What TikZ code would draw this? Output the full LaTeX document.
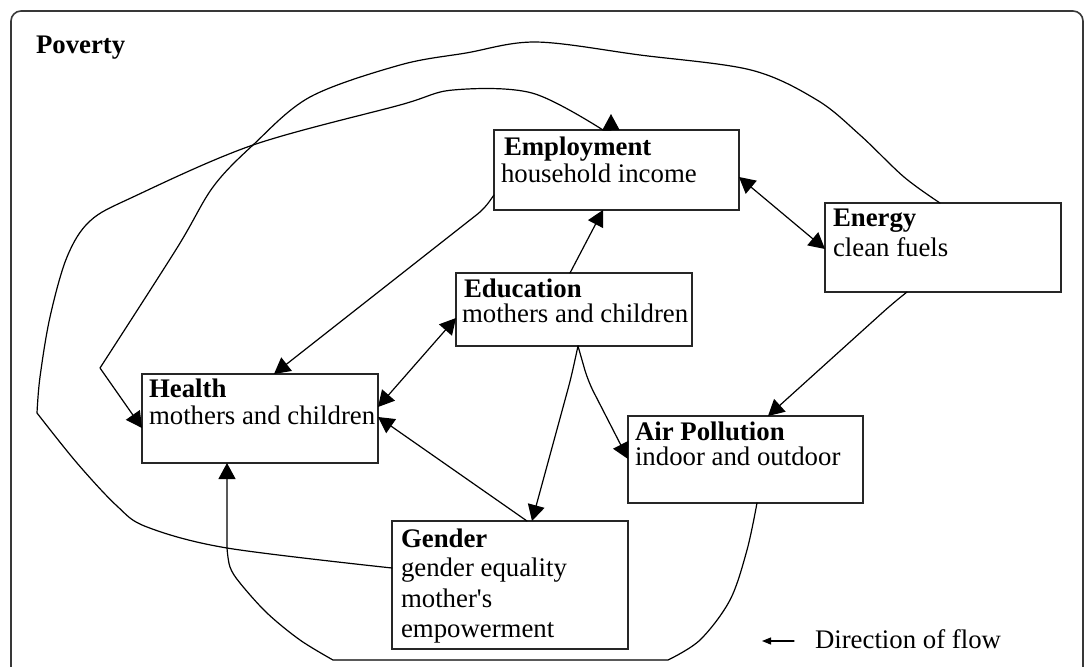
\documentclass[tikz,border=0pt]{standalone}
\usepackage{fontspec}
\setmainfont{Liberation Serif}
\usetikzlibrary{arrows.meta,calc}
\begin{document}
\begin{tikzpicture}[x=0.5pt,y=-0.5pt,
  >={Triangle[length=8pt,width=8.5pt]},
  box/.style={draw=black!85, line width=0.65pt, inner sep=0pt, outer sep=0pt, anchor=north west},
  lbl/.style={anchor=base west, inner sep=0pt, outer sep=0pt, font=\fontsize{13.4}{15}\selectfont},
  ttl/.style={lbl, font=\fontsize{13.4}{15}\selectfont\bfseries},
  link/.style={line width=0.6pt, line join=round, line cap=round},
  arr/.style={link, ->},
  darr/.style={link, <->},
]
\useasboundingbox (0,0) rectangle (1088,666);

% outer frame
\draw[draw=black!78, line width=0.8pt, rounded corners=5pt]
  (11,690) -- (11,11) -- (1083,11) -- (1083,690);
\node[ttl] (pov) at (36,53) {Poverty};

% boxes
\node[box, minimum width=122.5pt, minimum height=40pt]   (emp) at (494,130) {};
\node[box, minimum width=118pt,   minimum height=44.5pt] (ene) at (825,203) {};
\node[box, minimum width=118pt,   minimum height=36.5pt] (edu) at (456,273) {};
\node[box, minimum width=118pt,   minimum height=44.5pt] (hea) at (142,374) {};
\node[box, minimum width=117.5pt, minimum height=43.5pt] (air) at (628,416) {};
\node[box, minimum width=118pt,   minimum height=64pt]   (gen) at (392,521) {};

% box texts
\node[ttl] (emp-t) at (504,155) {Employment};
\node[lbl] (emp-s) at (501,182) {household income};
\node[ttl] (ene-t) at (833,226) {Energy};
\node[lbl] (ene-s) at (833,256) {clean fuels};
\node[ttl] (edu-t) at (464,297) {Education};
\node[lbl] (edu-s) at (462,322) {mothers and children};
\node[ttl] (hea-t) at (149,397) {Health};
\node[lbl] (hea-s) at (149,424) {mothers and children};
\node[ttl] (air-t) at (635,440) {Air Pollution};
\node[lbl] (air-s) at (635,465) {indoor and outdoor};
\node[ttl] (gen-t) at (401,547) {Gender};
\node[lbl] (gen-1) at (401,576) {gender equality};
\node[lbl] (gen-2) at (401,607) {mother\textquotesingle s};
\node[lbl] (gen-3) at (401,637) {empowerment};

% direct links
\draw[arr, rounded corners=4pt] ($(emp.north west)+(0,65)$) -- (484,209) -- ($(hea.north west)+(132,0)$);
\draw[arr] ($(edu.north west)+(114,0)$) -- ($(emp.south west)+(109,0)$);
\draw[darr] ($(emp.north east)+(0,47)$) -- ($(ene.north west)+(0,46)$);
\draw[arr, rounded corners=6pt] ($(ene.south west)+(82,0)$) -- (892,304) -- ($(air.north west)+(140,0)$);
\coordinate (eduB) at ($(edu.south west)+(122,0)$);
\draw[arr, rounded corners=6pt] (eduB) -- (588,381) -- ($(air.north west)+(0,43)$);
\draw[arr, rounded corners=6pt] (eduB) -- (571,378) -- ($(gen.north west)+(140,0)$);
\draw[darr] ($(edu.north west)+(0,45)$) -- ($(hea.north east)+(0,33)$);
\draw[arr] ($(gen.north west)+(135,0)$) -- ($(hea.north east)+(0,43)$);

% Gender -- Employment, round the left side
\coordinate (genL) at ($(gen.north west)+(0,47)$);
\coordinate (empT) at ($(emp.north west)+(117,0)$);
\draw[arr] plot[smooth, tension=0.55] coordinates {(genL) (227,548) (147,527) (117,506) (77,463) (37,413)}
  -- plot[smooth, tension=0.55] coordinates {(37,413) (40,377) (50,317) (67,257) (90,221) (133,197) (253,145) (400,105) (453,90) (532,93) (603,130)}
  -- (empT) -- ++(0,-16);

% Energy -> Health, over the top
\coordinate (eneT) at ($(ene.north west)+(115,0)$);
\coordinate (heaL) at ($(hea.north west)+(0,54)$);
\draw[arr] plot[smooth, tension=0.55] coordinates {(eneT) (904,177) (860,135) (817,100) (751,70) (640,55) (536,42) (466,53) (400,65) (310,97) (253,145) (213,187) (177,248) (100,368)}
  -- (heaL);

% Air Pollution -> Health, along the bottom
\coordinate (airB) at ($(air.south west)+(129,0)$);
\coordinate (heaB) at ($(hea.south west)+(85,0)$);
\draw[arr] plot[smooth, tension=0.55] coordinates {(airB) (747,550) (730,600) (700,640) (668,660)}
  -- (333,660)
  -- plot[smooth, tension=0.55] coordinates {(333,660) (300,640) (267,613) (240,583) (230,567) (227,548)}
  -- (heaB);

% key
\node[lbl] (key) at (815,648) {Direction of flow};
\draw[link, -{Triangle[length=4.5pt,width=3.5pt]}] ($(key.base west)+(-21,-7)$) -- ++(-32,0);
\end{tikzpicture}
\end{document}
